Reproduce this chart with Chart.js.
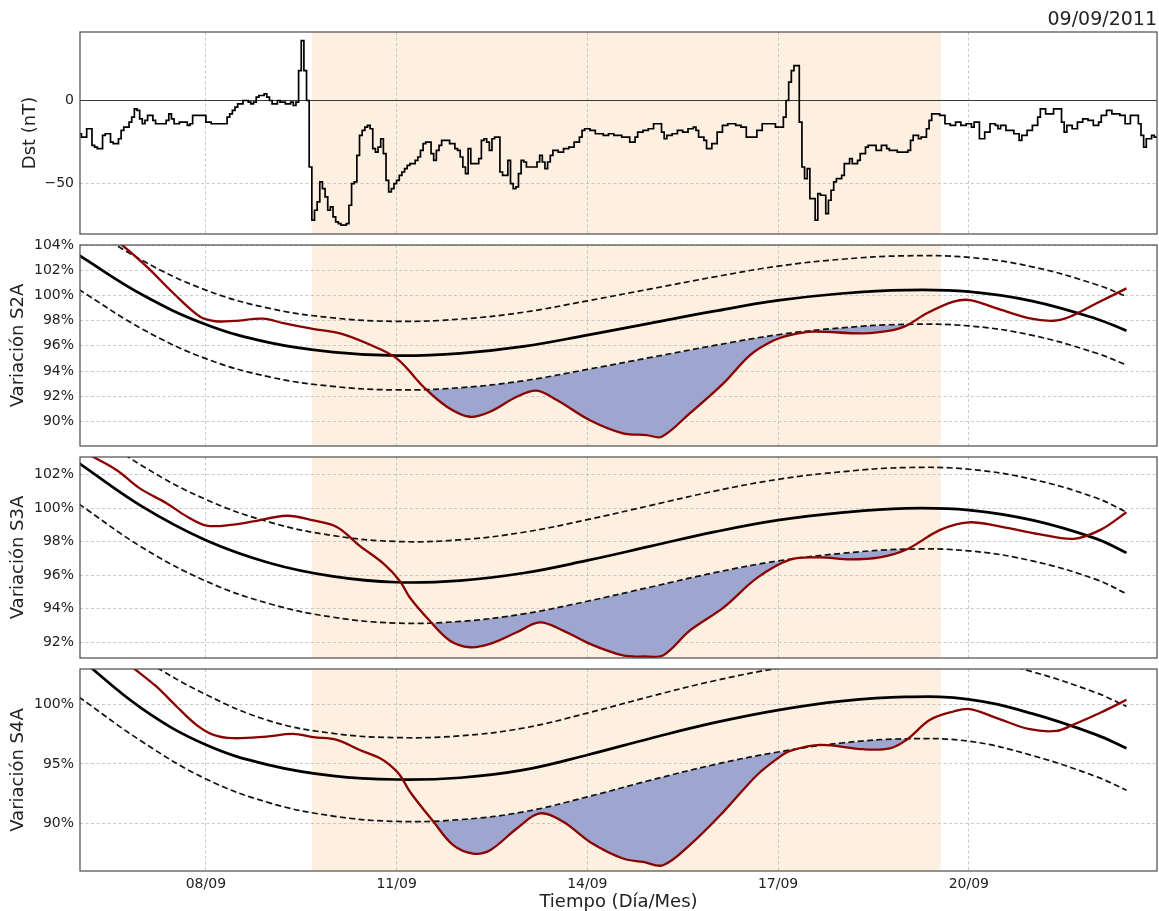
<!DOCTYPE html>
<html>
<head>
<meta charset="utf-8">
<title>Dst y variaciones S2A, S3A, S4A</title>
<script src="https://cdn.jsdelivr.net/npm/chart.js@4.4.0/dist/chart.umd.min.js"></script>
<style>
  html, body { margin: 0; padding: 0; background: #ffffff; }
  #wrap { position: relative; width: 1159px; height: 911px; overflow: hidden; }
  #wrap canvas { position: absolute; left: 0; top: 0; }
</style>
</head>
<body>
<div id="wrap">
  <canvas id="cDst" width="1159" height="911"></canvas>
  <canvas id="cS2A" width="1159" height="911"></canvas>
  <canvas id="cS3A" width="1159" height="911"></canvas>
  <canvas id="cS4A" width="1159" height="911"></canvas>
</div>
<script>
// Time axis: days since 06/09/2011 00:00
const dayRange = [0.02, 16.96];
const dayTicks = [2, 5, 8, 11, 14];
const dayTickLabels = ['08/09', '11/09', '14/09', '17/09', '20/09'];
const stormWindow = [3.667, 13.56];
const eventDate = '09/09/2011';

// Hourly Dst index (hour since 06/09 00:00, value in nT); each value holds until the next hour listed
const dstHours = [0,1,3,5,6,7,9,10,12,13,15,16,17,19,20,21,22,23,24,25,26,28,29,31,33,34,35,36,38,39,41,42,43,48,50,55,56,57,58,59,60,62,64,65,66,67,68,70,71,72,73,75,76,78,80,81,82,83,84,85,86,87,88,89,90,91,92,93,94,95,96,97,98,99,101,102,103,104,105,106,107,108,109,110,111,112,113,114,115,116,117,118,119,120,121,122,123,124,125,127,128,129,130,131,132,133,134,135,136,137,140,141,142,143,144,145,146,147,148,150,151,152,153,154,155,156,157,159,160,162,163,164,165,166,167,168,169,171,173,174,175,176,177,178,179,181,183,185,187,189,190,191,193,195,198,200,202,205,207,208,210,211,213,215,217,219,220,221,222,224,226,228,230,232,233,234,236,237,239,241,243,245,248,250,252,254,256,258,260,263,265,266,267,268,269,270,272,273,274,275,276,278,279,280,282,283,284,285,286,288,289,291,292,294,295,297,298,301,303,305,306,309,311,313,314,315,317,318,320,321,322,325,327,329,331,333,335,337,338,340,342,344,346,347,348,350,353,355,356,358,360,362,363,365,368,371,372,373,375,377,379,381,383,385,386,388,390,393,395,397,400,401,402,403,405,406,408];
const dstValues = [-20,-22,-17,-27,-28,-29,-21,-20,-25,-26,-23,-18,-16,-13,-10,-5,-6,-11,-14,-12,-9,-12,-14,-14,-12,-8,-11,-14,-13,-13,-15,-14,-9,-13,-14,-14,-10,-8,-6,-4,-2,0,-1,-2,-1,2,3,4,2,0,-2,0,-1,-2,-1,-3,-1,18,36,18,0,-40,-72,-66,-61,-49,-53,-58,-66,-64,-70,-73,-74,-75,-74,-63,-50,-49,-33,-21,-18,-16,-15,-17,-29,-31,-28,-23,-32,-48,-55,-53,-50,-48,-45,-43,-41,-39,-38,-36,-34,-30,-26,-25,-25,-32,-36,-30,-27,-24,-26,-26,-29,-30,-34,-40,-44,-29,-38,-38,-35,-24,-23,-25,-30,-23,-22,-43,-45,-36,-50,-53,-52,-44,-36,-37,-40,-40,-37,-33,-37,-41,-37,-33,-30,-31,-29,-28,-25,-22,-18,-17,-18,-20,-21,-20,-21,-22,-22,-25,-22,-19,-18,-17,-14,-14,-19,-23,-21,-20,-18,-19,-17,-16,-18,-22,-24,-29,-26,-19,-15,-14,-15,-16,-22,-22,-18,-14,-14,-16,-16,-10,0,11,18,21,-13,-40,-47,-41,-59,-72,-56,-57,-68,-60,-54,-49,-47,-45,-38,-35,-38,-36,-32,-28,-27,-30,-27,-29,-30,-31,-31,-30,-24,-21,-23,-22,-17,-12,-8,-9,-14,-15,-13,-15,-14,-16,-13,-23,-19,-14,-15,-17,-15,-18,-20,-24,-21,-18,-15,-10,-5,-8,-5,-13,-19,-15,-17,-13,-11,-12,-15,-13,-9,-6,-8,-9,-14,-9,-14,-21,-28,-23,-21,-22,-22];
const dstTicks = [-50, 0];
const dstRange = [-80.3, 41.2];

// Fitted baseline and its confidence band, sampled once per day
const fitDays = [0,1,2,3,4,5,6,7,8,9,10,11,12,13,14,15,16,16.48];

const s2aFit   = [103.2,100.05,97.7,96.25,95.5,95.22,95.4,95.95,96.85,97.8,98.75,99.6,100.15,100.42,100.3,99.55,98.15,97.2];
const s2aUpper = [105.92,102.77,100.42,98.97,98.22,97.94,98.12,98.67,99.57,100.52,101.47,102.32,102.87,103.14,103.02,102.27,100.87,99.92];
const s2aLower = [100.48,97.33,94.98,93.53,92.78,92.5,92.68,93.23,94.13,95.08,96.03,96.88,97.43,97.7,97.58,96.83,95.43,94.48];
const s2aDays  = [0,0.68,1.07,1.49,1.91,2.15,2.45,2.9,3.22,3.68,4.11,4.53,5.0,5.42,5.79,6.15,6.47,6.89,7.2,7.52,8.04,8.56,8.93,9.17,9.61,10.14,10.56,10.92,11.19,11.55,12.34,12.81,13.02,13.34,13.76,14.02,14.44,14.96,15.33,15.59,16.01,16.48];
const s2aObs   = [106.6,104.0,102.28,100.17,98.3,97.95,97.98,98.15,97.8,97.35,96.99,96.2,95.0,92.75,91.17,90.37,90.77,91.96,92.44,91.7,90.1,89.06,88.92,88.79,90.64,93.02,95.27,96.4,96.85,97.12,96.99,97.25,97.6,98.58,99.5,99.63,98.97,98.18,97.99,98.31,99.37,100.56];
const s2aTicks = [90,92,94,96,98,100,102,104];
const s2aRange = [88.05, 104];

const s3aFit   = [102.68,100.08,98.08,96.73,95.93,95.58,95.68,96.13,96.88,97.73,98.58,99.28,99.73,99.98,99.88,99.28,98.18,97.33];
const s3aUpper = [105.11,102.51,100.51,99.16,98.36,98.01,98.11,98.56,99.31,100.16,101.01,101.71,102.16,102.41,102.31,101.71,100.61,99.76];
const s3aLower = [100.25,97.65,95.65,94.3,93.5,93.15,93.25,93.7,94.45,95.3,96.15,96.85,97.3,97.55,97.45,96.85,95.75,94.9];
const s3aDays  = [0,0.23,0.6,0.96,1.38,1.7,2.01,2.43,2.74,3.27,3.69,4.06,4.42,4.79,5.05,5.21,5.52,5.84,6.15,6.47,6.89,7.25,7.62,8.04,8.56,8.88,9.19,9.61,10.14,10.67,11.19,11.66,12.13,12.6,13.02,13.55,14.0,14.5,15.1,15.65,16.07,16.48];
const s3aObs   = [103.5,103.04,102.25,101.17,100.29,99.5,98.95,99.01,99.2,99.54,99.26,98.87,97.75,96.7,95.66,94.66,93.29,92.1,91.71,91.91,92.6,93.19,92.7,91.91,91.22,91.16,91.22,92.7,94.07,95.84,96.93,97.06,96.94,97.06,97.53,98.7,99.15,98.9,98.45,98.17,98.7,99.75];
const s3aTicks = [92,94,96,98,100,102];
const s3aRange = [91.07, 103.04];

const s4aFit   = [103.9,99.6,96.6,94.9,94.0,93.7,93.85,94.5,95.75,97.15,98.45,99.5,100.25,100.6,100.4,99.2,97.45,96.31];
const s4aUpper = [107.4,103.8,100.8,98.6,97.55,97.2,97.35,98.0,99.25,100.65,101.95,103.0,103.75,104.1,103.9,102.7,100.95,99.81];
const s4aLower = [100.6,96.85,93.75,91.75,90.65,90.2,90.35,91.0,92.25,93.65,94.95,96.0,96.75,97.1,96.9,95.7,93.95,92.81];
const s4aDays  = [0,0.88,1.22,1.54,1.85,2.12,2.43,2.95,3.37,3.69,4.06,4.42,4.74,4.89,5.05,5.21,5.58,5.89,6.2,6.47,6.89,7.25,7.62,8.04,8.56,8.88,9.19,9.61,10.14,10.67,11.03,11.19,11.66,12.34,12.76,13.02,13.39,13.76,14.02,14.44,14.96,15.38,15.64,16.06,16.48];
const s4aObs   = [106.7,102.93,101.47,99.8,98.27,97.43,97.15,97.29,97.51,97.24,97.01,96.17,95.48,94.92,94.08,92.68,90.17,88.22,87.52,87.8,89.61,90.87,90.17,88.49,87.1,86.82,86.54,88.22,91.0,94.08,95.61,96.1,96.59,96.23,96.31,97.01,98.69,99.38,99.58,98.83,97.9,97.76,98.27,99.25,100.36];
const s4aTicks = [90,95,100];
const s4aRange = [86.06, 102.93];

// ---------------------------------------------------------------------------
const FONT = 'DejaVu Sans';
Chart.defaults.font.family = FONT;
Chart.defaults.color = '#222';
Chart.defaults.animation = false;

const COLORS = {
  storm: '#fdf0e1',
  fillBelow: 'rgb(158,166,208)',
  observed: '#8b0000',
  fit: '#000000',
  band: '#111111',
  grid: '#bdbdbd',
  frame: '#4a4a4a',
  zero: '#3a3a3a'
};

const toPoints = (xs, ys) => xs.map((x, i) => ({ x: x, y: ys[i] }));

// Shaded storm interval, painted behind grid and data
const stormShade = {
  id: 'stormShade',
  beforeDraw(chart) {
    const { ctx, chartArea, scales } = chart;
    const x0 = scales.x.getPixelForValue(stormWindow[0]);
    const x1 = scales.x.getPixelForValue(stormWindow[1]);
    ctx.save();
    ctx.fillStyle = COLORS.storm;
    ctx.fillRect(x0, chartArea.top, x1 - x0, chartArea.bottom - chartArea.top);
    ctx.restore();
  }
};

// Box around each panel
const panelFrame = {
  id: 'panelFrame',
  afterDraw(chart) {
    const { ctx, chartArea } = chart;
    ctx.save();
    ctx.strokeStyle = COLORS.frame;
    ctx.lineWidth = 1.2;
    ctx.strokeRect(chartArea.left, chartArea.top, chartArea.right - chartArea.left, chartArea.bottom - chartArea.top);
    ctx.restore();
  }
};

function makePanel(cfg) {
  const gridOpts = { color: COLORS.grid, lineWidth: 0.8, drawTicks: false };
  const borderOpts = { display: false, dash: [3, 2.5] };
  const xScale = {
    type: 'linear',
    min: dayRange[0],
    max: dayRange[1],
    afterBuildTicks: (s) => { s.ticks = dayTicks.map(v => ({ value: v })); },
    afterFit: (s) => { s.height = cfg.showX ? 40 : 0; },
    grid: gridOpts,
    border: borderOpts,
    ticks: {
      display: !!cfg.showX,
      autoSkip: false,
      maxRotation: 0,
      padding: 5,
      font: { size: 14, family: FONT },
      color: '#222',
      callback: (v) => { const i = dayTicks.indexOf(v); return i >= 0 ? dayTickLabels[i] : ''; }
    },
    title: {
      display: !!cfg.showX,
      text: 'Tiempo (Día/Mes)',
      font: { size: 18, family: FONT },
      color: '#222',
      padding: { top: 0, bottom: -2 }
    }
  };
  const yScale = {
    type: 'linear',
    min: cfg.range[0],
    max: cfg.range[1],
    afterBuildTicks: (s) => { s.ticks = cfg.ticks.map(v => ({ value: v })); },
    afterFit: (s) => { s.width = 80; },
    grid: gridOpts,
    border: borderOpts,
    ticks: {
      padding: 6,
      font: { size: 14, family: FONT },
      color: '#222',
      callback: cfg.tickFormat
    },
    title: {
      display: true,
      text: cfg.yTitle,
      font: { size: 18, family: FONT },
      color: '#222',
      padding: { top: cfg.titleOffset, bottom: 0 }
    }
  };
  return new Chart(document.getElementById(cfg.canvas), {
    type: 'line',
    data: { datasets: cfg.datasets },
    options: {
      responsive: false,
      devicePixelRatio: 1,
      events: [],
      layout: { padding: { top: cfg.padTop, bottom: cfg.padBottom, left: 0, right: 2 } },
      elements: { point: { radius: 0 }, line: { tension: 0.4 } },
      scales: { x: xScale, y: yScale },
      plugins: {
        legend: { display: false },
        tooltip: { enabled: false },
        filler: { propagate: false, drawTime: 'beforeDatasetsDraw' },
        title: cfg.dateTitle ? {
          display: true,
          text: cfg.dateTitle,
          align: 'end',
          font: { size: 19, family: FONT, weight: 'normal', lineHeight: 1.1 },
          color: '#222',
          padding: { top: 10, bottom: 1.1 }
        } : { display: false }
      }
    },
    plugins: [stormShade, panelFrame]
  });
}

function variationDatasets(days, obs, fitV, upper, lower) {
  return [
    {
      label: 'observado',
      data: toPoints(days, obs),
      borderColor: COLORS.observed,
      borderWidth: 2.3,
      tension: 0.35,
      fill: { target: 3, above: 'rgba(0,0,0,0)', below: COLORS.fillBelow }
    },
    {
      label: 'ajuste',
      data: toPoints(fitDays, fitV),
      borderColor: COLORS.fit,
      borderWidth: 2.7,
      fill: false
    },
    {
      label: 'límite superior',
      data: toPoints(fitDays, upper),
      borderColor: COLORS.band,
      borderWidth: 1.7,
      borderDash: [6, 3.4],
      fill: false
    },
    {
      label: 'límite inferior',
      data: toPoints(fitDays, lower),
      borderColor: COLORS.band,
      borderWidth: 1.7,
      borderDash: [6, 3.4],
      fill: false
    }
  ];
}

const pct = (v) => v + '%';

// Dst panel
makePanel({
  canvas: 'cDst',
  padTop: 0,
  padBottom: 911 - 234,
  range: dstRange,
  ticks: dstTicks,
  tickFormat: (v) => (v < 0 ? '\u2212' + Math.abs(v) : String(v)),
  yTitle: 'Dst (nT)',
  titleOffset: 20,
  dateTitle: eventDate,
  datasets: [
    {
      label: 'Dst',
      data: toPoints(dstHours.map(h => h / 24), dstValues),
      borderColor: '#000',
      borderWidth: 1.7,
      stepped: 'before',
      fill: false
    },
    {
      label: 'cero',
      data: toPoints(dayRange, [0, 0]),
      borderColor: COLORS.zero,
      borderWidth: 1.1,
      tension: 0,
      fill: false
    }
  ]
});

makePanel({
  canvas: 'cS2A',
  padTop: 245,
  padBottom: 911 - 446,
  range: s2aRange,
  ticks: s2aTicks,
  tickFormat: pct,
  yTitle: 'Variación S2A',
  titleOffset: 8,
  datasets: variationDatasets(s2aDays, s2aObs, s2aFit, s2aUpper, s2aLower)
});

makePanel({
  canvas: 'cS3A',
  padTop: 457,
  padBottom: 911 - 658,
  range: s3aRange,
  ticks: s3aTicks,
  tickFormat: pct,
  yTitle: 'Variación S3A',
  titleOffset: 8,
  datasets: variationDatasets(s3aDays, s3aObs, s3aFit, s3aUpper, s3aLower)
});

makePanel({
  canvas: 'cS4A',
  padTop: 669,
  padBottom: 0,
  showX: true,
  range: s4aRange,
  ticks: s4aTicks,
  tickFormat: pct,
  yTitle: 'Variación S4A',
  titleOffset: 8,
  datasets: variationDatasets(s4aDays, s4aObs, s4aFit, s4aUpper, s4aLower)
});
</script>
</body>
</html>
